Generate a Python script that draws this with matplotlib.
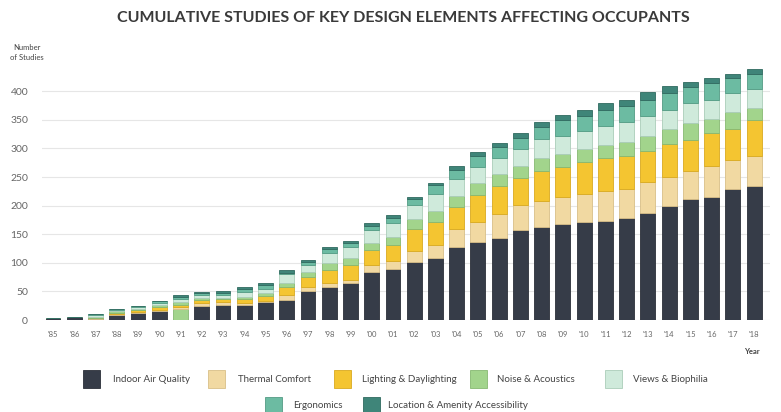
import matplotlib
matplotlib.use("Agg")
import matplotlib.pyplot as plt
from matplotlib.patches import Rectangle
import numpy as np

plt.rcParams['font.family'] = ['Lato', 'DejaVu Sans']

years = ["'85", "'86", "'87", "'88", "'89", "'90", "'91", "'92", "'93", "'94", "'95",
         "'96", "'97", "'98", "'99", "'00", "'01", "'02", "'03", "'04", "'05", "'06",
         "'07", "'08", "'09", "'10", "'11", "'12", "'13", "'14", "'15", "'16", "'17", "'18"]

indoor_air = [4, 5, 2, 8, 12, 15, 20, 25, 26, 26, 31,
              35, 50, 57, 64, 84, 89, 101, 109, 128, 137, 144,
              157, 163, 168, 171, 174, 178, 188, 200, 212, 216, 229, 234]
thermal = [0, 0, 1, 2, 2, 3, 2, 5, 5, 4, 3,
           8, 7, 7, 6, 12, 14, 20, 22, 31, 34, 41,
           44, 46, 47, 50, 52, 51, 53, 51, 49, 53, 51, 53]
lighting = [0, 0, 1, 3, 4, 5, 5, 5, 5, 6, 8,
            15, 19, 23, 27, 26, 29, 39, 40, 38, 47, 49,
            47, 51, 52, 55, 57, 57, 55, 57, 54, 58, 54, 62]
noise = [0, 0, 2, 2, 2, 4, 4, 3, 3, 4, 5,
         7, 8, 12, 12, 12, 14, 17, 20, 20, 21, 21,
         22, 23, 23, 23, 23, 26, 26, 26, 29, 25, 29, 21]
views = [0, 0, 2, 2, 3, 3, 6, 5, 5, 9, 8,
         15, 12, 19, 19, 23, 24, 25, 29, 30, 29, 29,
         29, 34, 32, 32, 34, 34, 34, 34, 35, 33, 34, 34]
ergonomics = [0, 1, 2, 2, 2, 3, 4, 4, 4, 6, 6,
              3, 5, 6, 7, 7, 9, 10, 16, 15, 18, 19,
              19, 21, 27, 26, 28, 29, 29, 29, 29, 29, 26, 26]
location = [0, 0, 0, 0, 0, 0, 2, 2, 3, 3, 4,
            4, 4, 4, 4, 5, 4, 4, 4, 7, 7, 6,
            9, 9, 10, 11, 11, 10, 13, 12, 8, 9, 8, 9]

series_names = ["Indoor Air Quality", "Thermal Comfort", "Lighting & Daylighting",
                "Noise & Acoustics", "Views & Biophilia", "Ergonomics",
                "Location & Amenity Accessibility"]
series = [indoor_air, thermal, lighting, noise, views, ergonomics, location]
colors = ["#363c48", "#f1d9a2", "#f4c531", "#a2d48c", "#cfeadb", "#6cbba2", "#3f8579"]
edges = ["#2b3039", "#d8bf88", "#d9aa20", "#86b872", "#abcdb9", "#539b84", "#306a60"]

# In the source chart the '91 Indoor Air Quality segment is drawn in the Noise colour
iaq_colors = [colors[3] if y == "'91" else colors[0] for y in years]
iaq_edges = [edges[3] if y == "'91" else edges[0] for y in years]

fig = plt.figure(figsize=(7.81, 4.12), dpi=100)
ax = fig.add_axes([42/781, 92/412, (770-42)/781, 0.6175])

x = np.arange(len(years))
bottom = np.zeros(len(years))
for i, vals in enumerate(series):
    v = np.array(vals, dtype=float)
    fc = iaq_colors if i == 0 else colors[i]
    ec = iaq_edges if i == 0 else edges[i]
    ax.bar(x, v, bottom=bottom, width=0.7, color=fc, edgecolor=ec, linewidth=0.6, zorder=3)
    bottom += v

ax.set_xlim(-0.52, len(years) - 0.25)
ax.set_ylim(0, 445)
ax.set_yticks(np.arange(0, 401, 50))
ax.set_yticklabels([str(t) for t in range(0, 401, 50)], color="#666666", fontsize=7.5)
ax.set_xticks(x)
ax.set_xticklabels(years, fontsize=5.5, color="#666666")
ax.tick_params(length=0, pad=8)
ax.tick_params(axis='y', pad=10)
ax.grid(axis='y', color="#e6e6e6", linewidth=0.8, zorder=0)
for s in ax.spines.values():
    s.set_visible(False)

fig.text(403/781, 1 - 18/412, "CUMULATIVE STUDIES OF KEY DESIGN ELEMENTS AFFECTING OCCUPANTS",
         ha='center', va='center', fontsize=11.5, fontweight='bold', color="#3a3a3a")
fig.text(27/781, 1 - 52/412, "Number\nof Studies", ha='center', va='center',
         fontsize=5.5, color="#444444", linespacing=1.5)
fig.text(752/781, 1 - 352/412, "Year", ha='center', va='center', fontsize=5.5,
         fontweight='bold', color="#444444")

# Legend
sq_x = [83, 208, 334, 470, 605, 265, 363]
sq_y = [370, 370, 370, 370, 370, 397, 397]
lab_x = [113, 238, 362, 497, 633, 293, 388]
for i, name in enumerate(series_names):
    fig.patches.append(Rectangle((sq_x[i]/781, 1 - (sq_y[i]+18)/412), 17/781, 18/412,
                                 transform=fig.transFigure, facecolor=colors[i],
                                 edgecolor=edges[i], linewidth=0.6))
    fig.text(lab_x[i]/781, 1 - (sq_y[i]+9)/412, name, ha='left', va='center',
             fontsize=7, color="#444444")

fig.savefig("out.png", dpi=100)
